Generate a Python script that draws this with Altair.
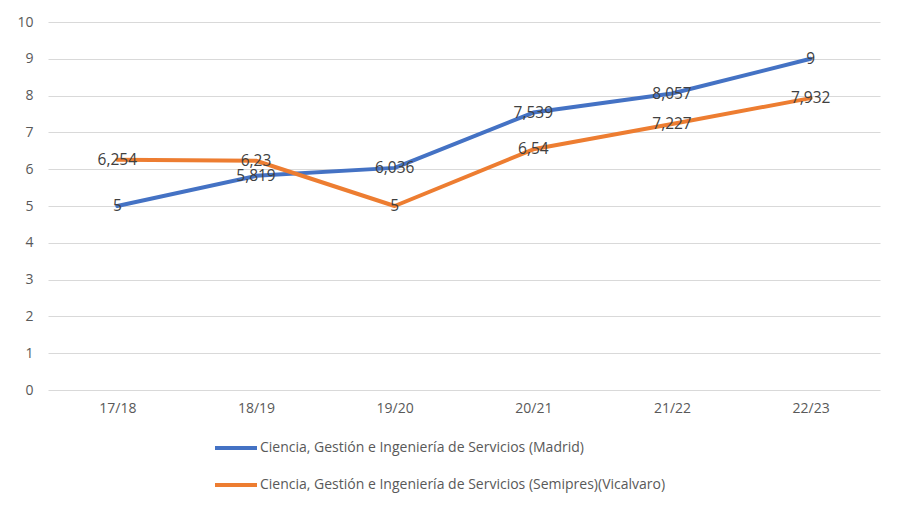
import altair as alt
import pandas as pd

years = ["17/18", "18/19", "19/20", "20/21", "21/22", "22/23"]
series_names = [
    "Ciencia, Gestión e Ingeniería de Servicios (Madrid)",
    "Ciencia, Gestión e Ingeniería de Servicios (Semipres)(Vicalvaro)",
]
madrid = [5, 5.819, 6.036, 7.539, 8.057, 9]
vicalvaro = [6.254, 6.23, 5, 6.54, 7.227, 7.932]
colors = ["#4472C4", "#ED7D31"]

rows = []
for name, vals in zip(series_names, [madrid, vicalvaro]):
    for y, v in zip(years, vals):
        rows.append({"year": y, "value": v, "series": name,
                     "label": f"{v:g}".replace(".", ",")})
df = pd.DataFrame(rows)

FONT = "Open Sans"

base = alt.Chart(df).encode(
    x=alt.X("year:N", sort=years, title=None,
            scale=alt.Scale(type="point", padding=0.5),
            axis=alt.Axis(labelAngle=0, ticks=False, tickSize=0, domain=False,
                          grid=False, labelPadding=11, labelFontSize=14,
                          labelColor="#595959", labelFont=FONT)),
    y=alt.Y("value:Q", title=None,
            scale=alt.Scale(domain=[0, 10], nice=False, zero=True),
            axis=alt.Axis(values=list(range(0, 11)), ticks=False, tickSize=0,
                          domain=False, grid=True, gridColor="#D9D9D9",
                          gridWidth=1.2, labelPadding=15, labelFontSize=14,
                          labelColor="#595959", labelFont=FONT)),
)

lines = base.mark_line(strokeWidth=4, strokeCap="round", strokeJoin="round").encode(
    color=alt.Color("series:N", sort=series_names, title=None,
                    scale=alt.Scale(domain=series_names, range=colors),
                    legend=alt.Legend(orient="none", legendX=165, legendY=403,
                                      direction="vertical", symbolType="stroke",
                                      symbolSize=1764, symbolStrokeWidth=4,
                                      labelOffset=1, rowPadding=6,
                                      labelFontSize=14, labelFont=FONT,
                                      labelColor="#595959", labelLimit=800))
)

labels = base.mark_text(fontSize=15.5, font=FONT, color="#404040",
                        align="center", baseline="middle").encode(
    text="label:N"
)

chart = (lines + labels).properties(
    width=832, height=368,
    padding={"left": 40, "top": 14, "right": 13, "bottom": 111},
    autosize=alt.AutoSizeParams(type="none"),
    background="white",
).configure_view(stroke="transparent", strokeWidth=0)

chart.save("out.html", embed_options={"renderer": "svg", "actions": False})
